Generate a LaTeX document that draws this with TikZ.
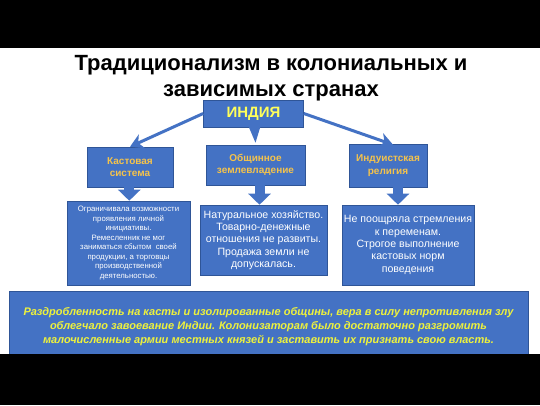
\documentclass[tikz,border=0pt]{standalone}
\usepackage{fontspec}
\setmainfont{Liberation Sans}
\usetikzlibrary{arrows.meta,calc}
\definecolor{boxblue}{HTML}{4472C4}
\definecolor{boxedge}{HTML}{2F5597}
\definecolor{indyellow}{RGB}{255,255,90}
\definecolor{headgold}{RGB}{245,195,75}
\definecolor{btmyellow}{RGB}{238,242,60}
\begin{document}
\begin{tikzpicture}[x=1pt,y=-1pt,
  bluebox/.style={draw=boxedge, line width=0.6pt, fill=boxblue, inner sep=2pt, align=center},
  headbox/.style={bluebox, text=headgold, font=\bfseries\fontsize{10}{12.5}\selectfont},
  textbox/.style={bluebox, text=white},
  thinarrow/.style={draw=boxblue, line width=3pt, -{Stealth[width=15pt,length=13pt,inset=4pt]}},
  blockarrow/.style={draw=boxblue, line width=10pt, -{Triangle[width=22pt,length=11pt]}}]
\fill[white] (0,0) rectangle (540,405);
\useasboundingbox (0,0) rectangle (540,405);

\node[font=\bfseries\fontsize{22}{26}\selectfont, align=center] (title) at (271,78)
  {Традиционализм в колониальных и\\зависимых странах};

\node[bluebox, minimum width=100pt, minimum height=27pt, text=indyellow,
  font=\bfseries\fontsize{15}{18}\selectfont] (india) at (253.5,113.5) {ИНДИЯ};

\node[headbox, minimum width=86pt, minimum height=40pt] (kast) at (130,167) {Кастовая\\система};
\node[headbox, minimum width=99pt, minimum height=40pt] (obsh) at (255.5,165) {Общинное\\землевладение};
\node[headbox, minimum width=78pt, minimum height=43pt] (ind) at (388,165.5) {Индуистская\\религия};

\node[textbox, minimum width=123pt, minimum height=84pt, font=\fontsize{7.8}{9.5}\selectfont] (t1) at (128.5,243)
  {Ограничивала возможности\\проявления личной\\инициативы.\\Ремесленник не мог\\заниматься сбытом\ \ своей\\продукции, а торговцы\\производственной\\деятельностью.};
\node[textbox, minimum width=127pt, minimum height=70pt, font=\fontsize{10.6}{12.3}\selectfont] (t2) at (263.5,240)
  {Натуральное хозяйство.\\Товарно-денежные\\отношения не развиты.\\Продажа земли не\\допускалась.};
\node[textbox, minimum width=130pt, minimum height=80pt, font=\fontsize{10.6}{12.3}\selectfont] (t3) at (408,245)
  {Не поощряла стремления\\к переменам.\\Строгое выполнение\\кастовых норм\\поведения};

\node[bluebox, minimum width=519pt, minimum height=70pt, anchor=north, text=btmyellow,
  font=\bfseries\itshape\fontsize{11}{14}\selectfont] (bottom) at (268.5,291)
  {Раздробленность на касты и изолированные общины, вера в силу непротивления злу\\облегчало завоевание Индии. Колонизаторам было достаточно разгромить\\малочисленные армии местных князей и заставить их признать свою власть.};

% callout pointer of INDIA
\fill[boxblue] ($(india.south)+(-5,-1)$) -- ($(india.south)+(7,-1)$) -- ($(obsh.north)+(0,-2)$) -- cycle;

\draw[thinarrow] (india.west) -- (kast.north);
\draw[thinarrow] (india.east) -- ($(ind.north)+(5,1)$);

\coordinate (m1) at ($(kast.south)!.5!(t1.north)$);
\coordinate (m2) at ($(obsh.south)!.5!(t2.north)$);
\coordinate (m3) at ($(ind.south)!.5!(t3.north)$);
\draw[blockarrow] (m1 |- kast.south) -- (m1 |- t1.north);
\draw[blockarrow] (m2 |- obsh.south) -- (m2 |- t2.north);
\draw[blockarrow] (m3 |- ind.south) -- (m3 |- t3.north);

\fill[black] (0,0) rectangle (540,48);
\fill[black] (0,354) rectangle (540,405);
\end{tikzpicture}
\end{document}
